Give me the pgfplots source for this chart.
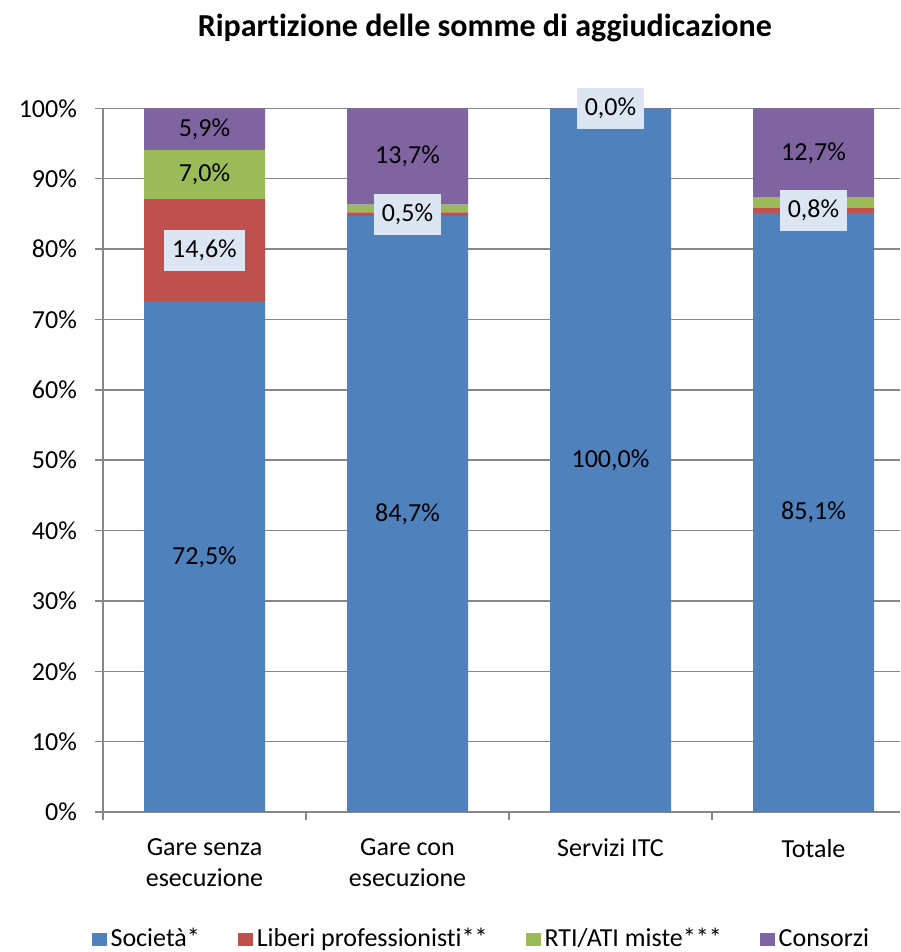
\documentclass[border=0pt]{standalone}
\usepackage{fontspec}
\setmainfont{Carlito}[Ligatures=NoCommon]
\usepackage{pgfplots}
\usepackage{pgfplotstable}
\pgfplotsset{compat=1.18}

\definecolor{soc}{RGB}{79,129,189}
\definecolor{lib}{RGB}{192,80,77}
\definecolor{rti}{RGB}{155,187,89}
\definecolor{cons}{RGB}{128,100,162}
\definecolor{lblbox}{RGB}{220,230,242}
\definecolor{axgray}{RGB}{134,134,134}

% one table per series: x, value, label, label box (1 = boxed)
\pgfplotstableread{
x y label box
0 72.5 {72,5\%} 0
1 84.7 {84,7\%} 0
2 100.0 {100,0\%} 0
3 85.1 {85,1\%} 0
}\societa
\pgfplotstableread{
x y label box
0 14.6 {14,6\%} 1
1 0.5 {0,5\%} 1
2 0.03 {0,0\%} 1
3 0.8 {0,8\%} 1
}\liberi
\pgfplotstableread{
x y label box
0 7.0 {7,0\%} 0
1 1.1 {} 0
2 0.0 {} 0
3 1.4 {} 0
}\rti
\pgfplotstableread{
x y label box
0 5.9 {5,9\%} 0
1 13.7 {13,7\%} 0
2 0.0 {} 0
3 12.7 {12,7\%} 0
}\consorzi

\begin{document}
\begin{tikzpicture}
\begin{axis}[name=ax,
  scale only axis,width=398.5pt,height=352pt,
  ybar stacked,bar width=60.5pt,
  xmin=-0.5,xmax=3.426,ymin=0,ymax=100.05,
  xtick={0,1,2,3},
  xticklabels={{Gare senza\\esecuzione},{Gare con\\esecuzione},{Servizi ITC},{Totale}},
  minor xtick={-0.5,0.5,1.5,2.5},
  major x tick style={draw=none},
  ytick={0,10,...,100},
  yticklabels={0\%,10\%,20\%,30\%,40\%,50\%,60\%,70\%,80\%,90\%,100\%},
  axis lines*=left,
  axis line style={axgray,line width=0.75pt},
  tick style={axgray,line width=0.75pt},
  tick align=outside,
  major tick length=4pt,minor tick length=4pt,
  ymajorgrids,grid style={axgray,line width=0.75pt},
  tick label style={font=\fontsize{13}{15.5}\selectfont,black},
  x tick label style={align=center,yshift=-6pt},
  y tick label style={xshift=-5.5pt},
  title={Ripartizione delle somme di aggiudicazione},
  title style={font=\bfseries\fontsize{16}{19}\selectfont,at={(0.479,1)},anchor=center,yshift=34pt},
  legend columns=4,
  legend style={draw=none,at={(0.476,0)},anchor=center,yshift=-63.5pt,
    font=\fontsize{13}{15.5}\selectfont,
    /tikz/every even column/.append style={column sep=17pt}},
  legend image code/.code={\draw[#1,draw=none] (0pt,-3.25pt) rectangle (7.5pt,3.25pt);},
  point meta=explicit symbolic,
  nodes near coords,
  visualization depends on={\thisrow{box} \as \boxop},
  every node near coord/.append style={anchor=center,black,
    font=\fontsize{13}{15.5}\selectfont,
    fill=lblbox,fill opacity=\boxop,text opacity=1,inner xsep=4pt,inner ysep=5pt},
]
\addplot[fill=soc,draw=none] table[x=x,y=y,meta=label] {\societa};
\addlegendentry{Società*}
\addplot[fill=lib,draw=none] table[x=x,y=y,meta=label] {\liberi};
\addlegendentry{Liberi professionisti**}
\addplot[fill=rti,draw=none] table[x=x,y=y,meta=label] {\rti};
\addlegendentry{RTI/ATI miste***}
\addplot[fill=cons,draw=none] table[x=x,y=y,meta=label] {\consorzi};
\addlegendentry{Consorzi}
\end{axis}
\pgfresetboundingbox
\path[use as bounding box] ([xshift=-51.5pt,yshift=-70pt]ax.south west) rectangle ([yshift=54pt]ax.north east);
\end{tikzpicture}
\end{document}
